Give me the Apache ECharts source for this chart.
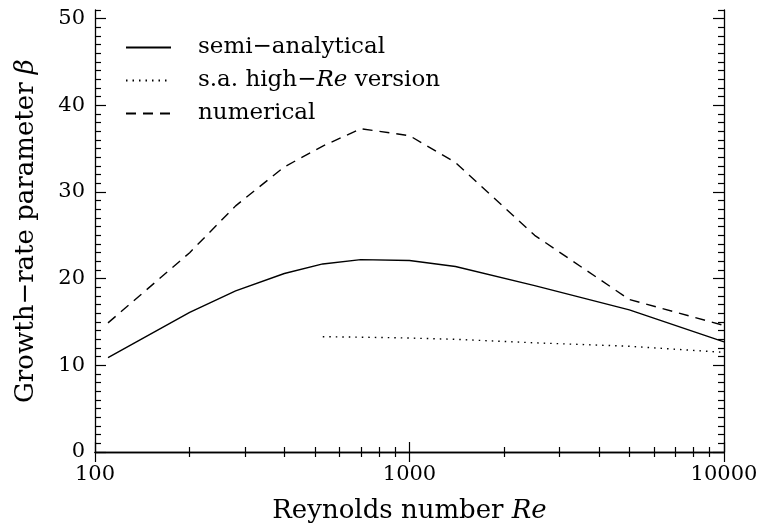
<!DOCTYPE html>
<html>
<head>
<meta charset="utf-8">
<script src="https://cdn.jsdelivr.net/npm/echarts@6/dist/echarts.min.js"></script>
<style>html,body{margin:0;padding:0;background:#fff}#c{width:765px;height:529px}</style>
</head>
<body>
<div id="c"></div>
<script>
// ---- data ----
const reynolds = [110, 200, 280, 400, 530, 700, 1000, 1400, 2500, 5000, 10000];
const semiAnalytical = [10.9, 16.1, 18.6, 20.6, 21.7, 22.2, 22.1, 21.4, 19.2, 16.4, 12.7];
const numerical = [14.9, 23.0, 28.4, 32.9, 35.3, 37.3, 36.5, 33.4, 25.0, 17.6, 14.6];
const reynoldsHigh = [530, 700, 1000, 1400, 2500, 5000, 10000];
const highReVersion = [13.3, 13.25, 13.15, 13.0, 12.6, 12.2, 11.5];
const seriesNames = ['semi-analytical', 's.a. high-Re version', 'numerical'];
const xMajorTicks = [100, 1000, 10000];
const xMinorTicks = [200,300,400,500,600,700,800,900,2000,3000,4000,5000,6000,7000,8000,9000];
const yMajorTicks = [0, 10, 20, 30, 40, 50];
const yMinorTicks = [];
for (let v = 1; v <= 51; v++) if (v % 10 !== 0) yMinorTicks.push(v);

const pairs = (xs, ys) => xs.map((x, i) => [x, ys[i]]);
const FONT = 'DejaVu Serif';
const black = '#000';
const TICK_FS = 21, NAME_FS = 26, LEG_FS = 23;

const xBase = (pos, showLabels, ticks, len, showLine) => ({
  type: 'log', logBase: 10, min: 100, max: 10000, position: pos,
  axisLine: { show: showLine, lineStyle: { color: black, width: 1.3 } },
  axisTick: { show: true, inside: true, length: len, customValues: ticks, lineStyle: { color: black, width: 1.2 } },
  axisLabel: { show: showLabels, customValues: xMajorTicks, formatter: v => String(Math.round(v)),
    color: black, fontFamily: FONT, fontSize: TICK_FS, margin: 12 },
  splitLine: { show: false }, minorTick: { show: false }
});
const yBase = (pos, showLabels, ticks, len, showLine) => ({
  type: 'value', min: 0, max: 51, position: pos,
  axisLine: { show: showLine, lineStyle: { color: black, width: 1.3 } },
  axisTick: { show: true, inside: true, length: len, customValues: ticks, lineStyle: { color: black, width: 1.2 } },
  axisLabel: { show: showLabels, customValues: yMajorTicks, color: black, fontFamily: FONT, fontSize: TICK_FS, margin: 10 },
  splitLine: { show: false }, minorTick: { show: false }
});

const rich = fs => ({
  n: { fontFamily: FONT, fontSize: fs, color: black },
  i: { fontFamily: FONT, fontSize: fs, fontStyle: 'italic', color: black }
});

const x0 = xBase('bottom', true, xMajorTicks, 10, true);
x0.name = '{n|Reynolds number }{i|Re}';
x0.nameLocation = 'middle';
x0.nameGap = 46;
x0.nameTextStyle = { color: black, fontFamily: FONT, fontSize: NAME_FS, rich: rich(NAME_FS) };

const y0 = yBase('left', true, yMajorTicks, 11, true);
y0.name = '{n|Growth−rate parameter }{i|β}';
y0.nameLocation = 'middle';
y0.nameGap = 56;
y0.nameTextStyle = { color: black, fontFamily: FONT, fontSize: NAME_FS, rich: rich(NAME_FS) };

const legendLabels = {
  'semi-analytical': '{n|semi−analytical}',
  's.a. high-Re version': '{n|s.a. high−}{i|Re}{n| version}',
  'numerical': '{n|numerical}'
};

const lineSeries = (name, data, type) => ({
  name, type: 'line', data, xAxisIndex: 0, yAxisIndex: 0,
  symbol: 'none', showSymbol: false, smooth: false, silent: true,
  lineStyle: { color: black, width: 1.4, type },
  itemStyle: { color: black }
});

const chart = echarts.init(document.getElementById('c'), null, { renderer: 'canvas' });
chart.setOption({
  backgroundColor: '#fff',
  animation: false,
  grid: { left: 95, right: 41, top: 10, bottom: 74, containLabel: false },
  legend: {
    orient: 'vertical', left: 120, top: 31, itemGap: 10,
    itemWidth: 45, itemHeight: 14,
    data: seriesNames,
    itemStyle: { opacity: 0 },
    formatter: n => legendLabels[n],
    textStyle: { color: black, fontFamily: FONT, fontSize: LEG_FS, padding: [0, 0, 0, 22], rich: rich(LEG_FS) }
  },
  xAxis: [
    x0,
    xBase('bottom', false, xMinorTicks, 5, false),
    xBase('top', false, xMajorTicks, 10, true),
    xBase('top', false, xMinorTicks, 5, false)
  ],
  yAxis: [
    y0,
    yBase('left', false, yMinorTicks, 6, false),
    yBase('right', false, yMajorTicks, 11, true),
    yBase('right', false, yMinorTicks, 6, false)
  ],
  series: [
    lineSeries(seriesNames[0], pairs(reynolds, semiAnalytical), 'solid'),
    lineSeries(seriesNames[1], pairs(reynoldsHigh, highReVersion), [1.5, 5]),
    lineSeries(seriesNames[2], pairs(reynolds, numerical), [10, 7])
  ]
});
</script>
</body>
</html>
